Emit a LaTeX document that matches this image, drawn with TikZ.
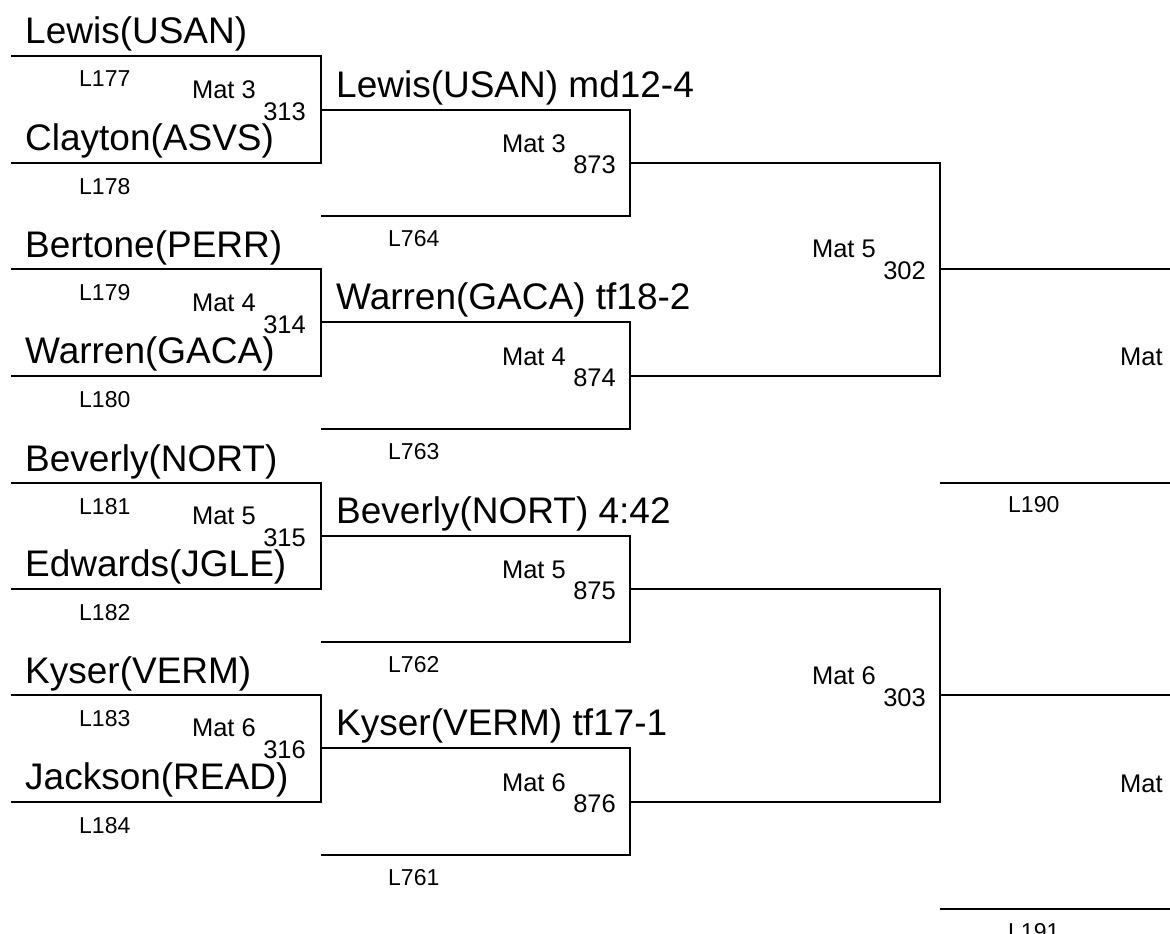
\documentclass[tikz,border=0pt]{standalone}
\usepackage{fontspec}
\setmainfont{Liberation Sans}
\tikzset{
  bline/.style={line width=2.2pt, black},
  wrestler/.style={anchor=base west, inner sep=0pt, font=\fontsize{37}{40}\selectfont},
  loser/.style={anchor=base west, inner sep=0pt, font=\fontsize{23}{26}\selectfont},
  matlbl/.style={anchor=base east, inner sep=0pt, font=\fontsize{25.5}{28}\selectfont},
  boutno/.style={matlbl},
}

\begin{document}
\begin{tikzpicture}[x=1pt, y=-1pt]
    \useasboundingbox (0,0) rectangle (1170,934);
    \fill[white] (0,0) rectangle (1170,934);
    \clip (0,0) rectangle (1170,934);

    % bracket corners
    \coordinate (c177) at (11,56);
    \coordinate (c178) at (11,163);
    \coordinate (c179) at (11,269);
    \coordinate (c180) at (11,376);
    \coordinate (c181) at (11,483);
    \coordinate (c182) at (11,589);
    \coordinate (c183) at (11,695);
    \coordinate (c184) at (11,802);
    \coordinate (j313) at (321,110);
    \coordinate (j314) at (321,322);
    \coordinate (j315) at (321,536);
    \coordinate (j316) at (321,748);
    \coordinate (c764) at (321,216);
    \coordinate (c763) at (321,429);
    \coordinate (c762) at (321,642);
    \coordinate (c761) at (321,855);
    \coordinate (j873) at (630,163);
    \coordinate (j874) at (630,376);
    \coordinate (j875) at (630,589);
    \coordinate (j876) at (630,802);
    \coordinate (j302) at (940,269);
    \coordinate (j303) at (940,695);
    \coordinate (e302) at (1170,269);
    \coordinate (e303) at (1170,695);
    \coordinate (c190) at (940,483);
    \coordinate (e190) at (1170,483);
    \coordinate (c191) at (940,909);
    \coordinate (e191) at (1170,909);

    % first round
    \node [wrestler] (lewis) at (25,44) {Lewis(USAN)};
    \node [wrestler] (clayton) at (25,150) {Clayton(ASVS)};
    \node [loser] (l177) at (79,87) {L177};
    \node [loser] (l178) at (79,194) {L178};
    \node [matlbl] (m313) at (256,98) {Mat 3};
    \node [boutno] (b313) at (306,120) {313};

    \node [wrestler] (bertone) at (25,257) {Bertone(PERR)};
    \node [wrestler] (warren) at (25,363) {Warren(GACA)};
    \node [loser] (l179) at (79,300) {L179};
    \node [loser] (l180) at (79,407) {L180};
    \node [matlbl] (m314) at (256,311) {Mat 4};
    \node [boutno] (b314) at (306,333) {314};

    \node [wrestler] (beverly) at (25,471) {Beverly(NORT)};
    \node [wrestler] (edwards) at (25,576) {Edwards(JGLE)};
    \node [loser] (l181) at (79,514) {L181};
    \node [loser] (l182) at (79,620) {L182};
    \node [matlbl] (m315) at (256,524) {Mat 5};
    \node [boutno] (b315) at (306,546) {315};

    \node [wrestler] (kyser) at (25,683) {Kyser(VERM)};
    \node [wrestler] (jackson) at (25,789) {Jackson(READ)};
    \node [loser] (l183) at (79,726) {L183};
    \node [loser] (l184) at (79,833) {L184};
    \node [matlbl] (m316) at (256,736) {Mat 6};
    \node [boutno] (b316) at (306,758) {316};

    % second round
    \node [wrestler] (w313) at (336,97) {Lewis(USAN) md12-4};
    \node [wrestler] (w314) at (336,309) {Warren(GACA) tf18-2};
    \node [wrestler] (w315) at (336,523) {Beverly(NORT) 4:42};
    \node [wrestler] (w316) at (336,735) {Kyser(VERM) tf17-1};
    \node [loser] (l764) at (388,246) {L764};
    \node [loser] (l763) at (388,459) {L763};
    \node [loser] (l762) at (388,672) {L762};
    \node [loser] (l761) at (388,885) {L761};
    \node [matlbl] (m873) at (566,152) {Mat 3};
    \node [boutno] (b873) at (616,173) {873};
    \node [matlbl] (m874) at (566,365) {Mat 4};
    \node [boutno] (b874) at (616,386) {874};
    \node [matlbl] (m875) at (566,578) {Mat 5};
    \node [boutno] (b875) at (616,599) {875};
    \node [matlbl] (m876) at (566,791) {Mat 6};
    \node [boutno] (b876) at (616,812) {876};

    % third round
    \node [matlbl] (m302) at (876,257) {Mat 5};
    \node [boutno] (b302) at (926,279) {302};
    \node [matlbl] (m303) at (876,684) {Mat 6};
    \node [boutno] (b303) at (926,706) {303};
    \node [loser] (l190) at (1008,512) {L190};
    \node [loser] (l191) at (1008,939) {L191};
    \node [loser, font=\fontsize{25.5}{28}\selectfont] (mnext1) at (1120,365) {Mat};
    \node [loser, font=\fontsize{25.5}{28}\selectfont] (mnext2) at (1120,792) {Mat};

    % lines
    \draw [bline] (c177) -| (j313) |- (c178);
    \draw [bline] (c179) -| (j314) |- (c180);
    \draw [bline] (c181) -| (j315) |- (c182);
    \draw [bline] (c183) -| (j316) |- (c184);
    \draw [bline] (j313) -| (j873) |- (c764);
    \draw [bline] (j314) -| (j874) |- (c763);
    \draw [bline] (j315) -| (j875) |- (c762);
    \draw [bline] (j316) -| (j876) |- (c761);
    \draw [bline] (j873) -| (j302) |- (j874);
    \draw [bline] (j875) -| (j303) |- (j876);
    \draw [bline] (j302) -- (e302);
    \draw [bline] (j303) -- (e303);
    \draw [bline] (c190) -- (e190);
    \draw [bline] (c191) -- (e191);
\end{tikzpicture}
\end{document}
